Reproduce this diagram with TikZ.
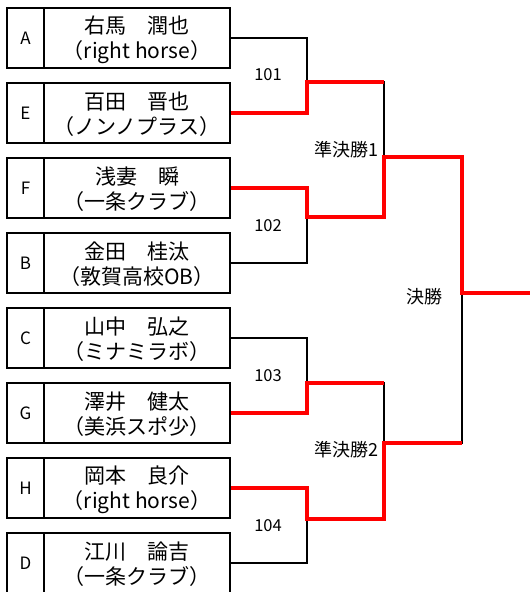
\documentclass[tikz,border=0pt]{standalone}
\usepackage{fontspec}
\setmainfont{Noto Sans CJK JP}
\begin{document}
\begin{tikzpicture}[x=1pt,y=-1pt,
  letterbox/.style={draw,line width=2pt,minimum width=37pt,minimum height=60pt,inner sep=0pt,font=\fontsize{17}{20}\selectfont},
  namebox/.style={draw,line width=2pt,minimum width=186pt,minimum height=60pt,inner sep=0pt,align=center,font=\fontsize{21}{25}\selectfont},
  nametext/.style={inner sep=0pt,align=center,font=\fontsize{21}{25}\selectfont},
  win/.style={draw=red,line width=4pt},
  lose/.style={draw=black,line width=2pt},
  numlabel/.style={font=\fontsize{16.5}{19}\selectfont,inner sep=0pt},
  roundlabel/.style={font=\fontsize{18}{21}\selectfont,inner sep=0pt}]
\useasboundingbox (0,0) rectangle (530,592);
\fill[white] (0,0) rectangle (530,592);
\begin{scope}
\clip (0,0) rectangle (530,592);
% entrants
\foreach \i/\l/\n/\t in {0/A/右馬　潤也/（right horse）,1/E/百田　晋也/（ノンノプラス）,2/F/浅妻　瞬/（一条クラブ）,3/B/金田　桂汰/（敦賀高校OB）,4/C/山中　弘之/（ミナミラボ）,5/G/澤井　健太/（美浜スポ少）,6/H/岡本　良介/（right horse）,7/D/江川　論吉/（一条クラブ）}{
  \node[letterbox] (l\l) at (25.5,{38+75*\i}) {\l};
  \node[namebox] (n\l) at (137,{38+75*\i}) {};
  \node[nametext] (x\l) at (137,{39.5+75*\i}) {\n\\\t};
}
\end{scope}
% junction coordinates
\coordinate (m101) at (307,82);
\coordinate (m102) at (307,217);
\coordinate (m103) at (307,383);
\coordinate (m104) at (307,519);
\coordinate (s1) at (384,157);
\coordinate (s2) at (384,443);
\coordinate (f) at (462,293);
\coordinate (champ) at (530,293);
% losing (black) lines
\draw[lose] (nA.east) -| (m101);
\draw[lose] (nB.east) -| (m102);
\draw[lose] (nC.east) -| (m103);
\draw[lose] (nD.east) -| (m104);
\draw[lose] (m101) -- (384,82) -- (s1);
\draw[lose] (m103) -- (384,383) -- (s2);
\draw[lose] (f) -- (462,443) -- (s2);
% winning (red) lines
\draw[win] (nE.east) -| (m101) -- (384,82);
\draw[win] (nF.east) -| (m102) -- (384,217) -- (s1) -- (462,157) -- (f) -- (champ);
\draw[win] (nG.east) -| (m103) -- (384,383);
\draw[win] (nH.east) -| (m104) -- (384,519) -- (s2) -- (462,443);
% labels
\node[numlabel] (t101) at (268,75) {101};
\node[numlabel] (t102) at (268,226) {102};
\node[numlabel] (t103) at (268,376) {103};
\node[numlabel] (t104) at (268,526) {104};
\node[roundlabel] (sf1) at (346,150) {準決勝1};
\node[roundlabel] (sf2) at (346,450) {準決勝2};
\node[roundlabel] (fin) at (424,297) {決勝};
\end{tikzpicture}
\end{document}
